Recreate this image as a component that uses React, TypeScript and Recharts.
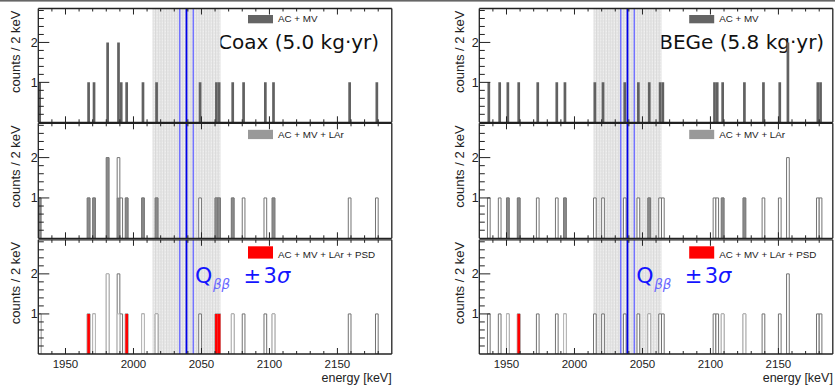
import React from 'react';
import { Bar, ComposedChart, ReferenceArea, ReferenceLine, XAxis, YAxis } from 'recharts';

// histogram range and binning (keV)
const HIST_MIN = 1930;
const HIST_MAX = 2190;
const BIN = 2;
const Y_MAX = 2.85;

const xTicks = [1940, 1950, 1960, 1970, 1980, 1990, 2000, 2010, 2020, 2030, 2040, 2050, 2060, 2070, 2080, 2090, 2100, 2110, 2120, 2130, 2140, 2150, 2160, 2170, 2180];
const yTicks = [0.2, 0.4, 0.6, 0.8, 1, 1.2, 1.4, 1.6, 1.8, 2, 2.2, 2.4, 2.6, 2.8];

// events, given as lower bin edge (keV); a repeated value = 2 counts in that bin
const coaxAcMv = [1930, 1966, 1970, 1980, 1980, 1988, 1988, 1990, 1994, 2006, 2016, 2048, 2060, 2062, 2072, 2080, 2096, 2102, 2158, 2178];
const coaxLAr = [1930, 1966, 1970, 1980, 1980, 1988, 1994, 2006, 2016, 2060, 2062, 2072, 2102];
const coaxPsd = [1966, 1994, 2060, 2062];

const begeAcMv = [1936, 1944, 1950, 1958, 1972, 1986, 1992, 2014, 2020, 2036, 2046, 2054, 2062, 2064, 2102, 2104, 2108, 2124, 2138, 2150, 2156, 2156, 2178, 2180];
const begeLAr = [1950, 1958, 1992, 2054, 2108, 2124];
const begePsd = [1958];

const qbb = 2039;
const qbbWindow = [2034, 2044];
const blindWindow = [2014, 2064];

const legendLabels = ['AC + MV', 'AC + MV + LAr', 'AC + MV + LAr + PSD'];
const legendColors = ['#646464', '#999999', '#ff0000'];
const detectorLabels = ['Coax (5.0 kg\u00B7yr)', 'BEGe (5.8 kg\u00B7yr)'];

// layout
const COL_X = [0, 441.2];
const CHART_W = 394;
const PLOT_L = 38.3;
const PLOT_W = 353.5;
const H = 385;
const PANEL_TOP = [8.5, 123.3, 239.8];
const PANEL_BOTTOM = [122.3, 238.3, 354];
const FRAME = '#222';
const HELV = '"Liberation Sans", Arial, sans-serif';
const SANS = '"DejaVu Sans", sans-serif';

const binEdges: number[] = [];
for (let lo = HIST_MIN; lo < HIST_MAX; lo += BIN) binEdges.push(lo);

function countIn(events: number[], lo: number) {
  const n = events.filter((e) => e === lo).length;
  return n > 0 ? n : null;
}

function histRows(acmv: number[], lar: number[], psd: number[]) {
  return binEdges.map((lo) => ({
    e: lo + BIN / 2,
    acmv: countIn(acmv, lo),
    lar: countIn(lar, lo),
    psd: countIn(psd, lo),
  }));
}

const coaxRows = histRows(coaxAcMv, coaxLAr, coaxPsd);
const begeRows = histRows(begeAcMv, begeLAr, begePsd);

function XTickMark(props: any) {
  const { x, y, payload, dir, labels } = props;
  const major = payload.value % 50 === 0;
  return (
    <g>
      <line x1={x} x2={x} y1={y} y2={y + dir * (major ? 6 : 3)} stroke={FRAME} strokeWidth={1} />
      {labels && major && (
        <text x={x} y={y + 14} textAnchor="middle" fontSize={11.5} fontFamily={HELV} fill="#222">
          {payload.value}
        </text>
      )}
    </g>
  );
}

function YTickMark(props: any) {
  const { x, y, payload } = props;
  const v = payload.value;
  const major = Math.abs(v - Math.round(v)) < 1e-6;
  return (
    <g>
      <line x1={x} x2={x + (major ? 11 : 5.5)} y1={y} y2={y} stroke={FRAME} strokeWidth={1} />
      {major && (
        <text x={x - 0.5} y={y} dy="0.36em" textAnchor="end" fontSize={12.5} fontFamily={HELV} fill="#222">
          {Math.round(v)}
        </text>
      )}
    </g>
  );
}

function Panel({ rows, level, col }: { rows: any[]; level: number; col: number }) {
  const top = PANEL_TOP[level];
  const bottom = PANEL_BOTTOM[level];
  const axisLine = { stroke: FRAME, strokeWidth: 1.3 };
  const xCommon = { type: 'number' as const, dataKey: 'e', domain: [HIST_MIN, HIST_MAX], allowDataOverflow: true };
  // every visible axis takes 1px, so the margins are reduced by that
  return (
    <div style={{ position: 'absolute', left: COL_X[col], top: 0 }}>
      <ComposedChart
        width={CHART_W}
        height={H}
        data={rows}
        margin={{ top: top - 1, bottom: H - bottom - 1, left: PLOT_L - 1, right: CHART_W - PLOT_L - PLOT_W - 1 }}
        barCategoryGap={0}
      >
        <XAxis
          {...xCommon}
          xAxisId={0}
          ticks={xTicks}
          interval={0}
          height={1}
          tickSize={0}
          tickMargin={0}
          tickLine={false}
          axisLine={axisLine}
          tick={(p: any) => <XTickMark {...p} dir={-1} labels={level === 2} />}
        />
        <XAxis
          {...xCommon}
          xAxisId="top"
          orientation="top"
          ticks={xTicks}
          interval={0}
          height={1}
          tickSize={0}
          tickMargin={0}
          tickLine={false}
          axisLine={axisLine}
          tick={(p: any) => <XTickMark {...p} dir={1} labels={false} />}
        />
        <XAxis {...xCommon} xAxisId="b" hide />
        <XAxis {...xCommon} xAxisId="c" hide />
        <YAxis
          domain={[0, Y_MAX]}
          allowDataOverflow
          ticks={yTicks}
          interval={0}
          width={1}
          tickSize={0}
          tickMargin={0}
          tickLine={false}
          axisLine={axisLine}
          tick={(p: any) => <YTickMark {...p} />}
        />
        <YAxis yAxisId="r" orientation="right" domain={[0, Y_MAX]} width={1} tick={false} tickLine={false} axisLine={axisLine} />

        <ReferenceArea x1={blindWindow[0]} x2={blindWindow[1]} fill="url(#hatch)" fillOpacity={1} stroke="none" />

        {level === 0 && <Bar dataKey="acmv" xAxisId={0} barSize={2.7} fill="#616161" isAnimationActive={false} />}
        {level === 1 && <Bar dataKey="acmv" xAxisId={0} barSize={2.7} fill="#ffffff" stroke="#747474" strokeWidth={1} isAnimationActive={false} />}
        {level === 1 && <Bar dataKey="lar" xAxisId="b" barSize={2.7} fill="#8a8a8a" stroke="#747474" strokeWidth={0.6} isAnimationActive={false} />}
        {level === 2 && <Bar dataKey="acmv" xAxisId={0} barSize={2.7} fill="#ffffff" stroke="#727272" strokeWidth={1} isAnimationActive={false} />}
        {level === 2 && <Bar dataKey="lar" xAxisId="b" barSize={2.7} fill="#ffffff" stroke="#b8b8b8" strokeWidth={1} isAnimationActive={false} />}
        {level === 2 && <Bar dataKey="psd" xAxisId="c" barSize={2.7} fill="#ff0000" isAnimationActive={false} />}

        <ReferenceLine x={qbbWindow[0]} stroke="#7373ff" strokeWidth={1.5} />
        <ReferenceLine x={qbbWindow[1]} stroke="#7373ff" strokeWidth={1.5} />
        <ReferenceLine x={qbb} stroke="#0000e8" strokeWidth={1.8} />
      </ComposedChart>
    </div>
  );
}

export default function App() {
  return (
    <div style={{ position: 'absolute', left: 0, top: 0, width: 835, height: H, overflow: 'hidden', background: '#fff' }}>
      {/* under the charts: detector labels (bars may cross them) and the hatch pattern */}
      <svg width={835} height={H} style={{ position: 'absolute', left: 0, top: 0 }}>
        <defs>
          <pattern id="hatch" patternUnits="userSpaceOnUse" width={2.72} height={3}>
            <rect x={0} y={0} width={2.72} height={3} fill="#e8e8e8" />
            <rect x={0} y={0} width={1} height={3} fill="#d9d9d9" />
            <rect x={1.6} y={1} width={1} height={1} fill="#f2f2f2" />
          </pattern>
        </defs>
        <rect x={0} y={0} width={835} height={1.6} fill="#666" />
        {COL_X.map((cx, i) => (
          <text key={i} x={cx + 218} y={49} fontSize={20} fontFamily={SANS} fill="#111">
            {detectorLabels[i]}
          </text>
        ))}
      </svg>

      {[coaxRows, begeRows].map((rows, col) =>
        [0, 1, 2].map((level) => <Panel key={`${col}-${level}`} rows={rows} level={level} col={col} />)
      )}

      <svg width={835} height={H} style={{ position: 'absolute', left: 0, top: 0, pointerEvents: 'none' }}>
        {COL_X.map((cx, col) => (
          <g key={col}>
            {PANEL_TOP.map((top, level) => (
              <g key={level}>
                <rect x={cx + 248} y={top + 6.5} width={25} height={[8.3, 9.3, 12.3][level]} fill={legendColors[level]} />
                <text x={cx + 278} y={top + [13.2, 14.7, 18][level]} fontSize={9.8} fontFamily={HELV} fill="#222">
                  {legendLabels[level]}
                </text>
                <text
                  transform={`translate(${cx + (col === 0 ? 20 : 22.8)}, ${top + 2}) rotate(-90)`}
                  textAnchor="end"
                  fontSize={13}
                  fontFamily={HELV}
                  fill="#222"
                >
                  counts / 2 keV
                </text>
              </g>
            ))}
            <text x={cx + 391.7} y={382} textAnchor="end" fontSize={12.5} fontFamily={HELV} fill="#222">
              energy [keV]
            </text>
            <text x={cx + 195} y={282.5} fontSize={22} fontFamily={SANS} fill="#1414ff">Q</text>
            <text x={cx + 213} y={289} fontSize={13.5} fontStyle="italic" fontFamily={SANS} fill="#6a6aff">ββ</text>
            <text x={cx + 243.5} y={282.5} fontSize={21} fontFamily={SANS} fill="#1414ff">±</text>
            <text x={cx + 263.5} y={282.5} fontSize={21} fontFamily={SANS} fill="#1414ff">3<tspan fontStyle="italic">σ</tspan></text>
          </g>
        ))}
      </svg>
    </div>
  );
}
